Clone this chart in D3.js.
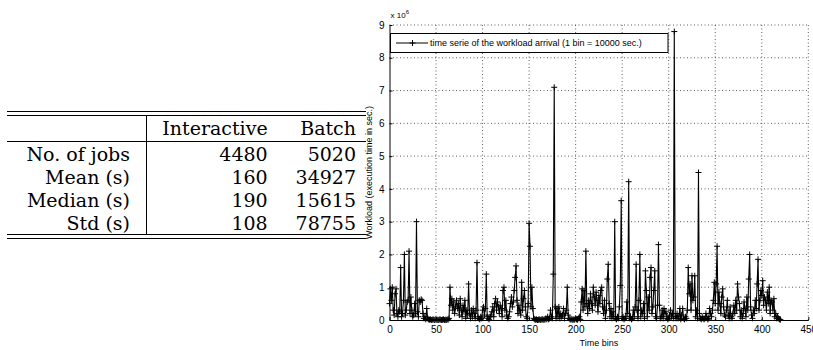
<!DOCTYPE html>
<html>
<head>
<meta charset="utf-8">
<script src="https://cdn.jsdelivr.net/npm/d3@7"></script>
<style>
  html, body { margin: 0; padding: 0; background: #fff; }
  svg { display: block; }
</style>
</head>
<body>
<svg id="chart" width="813" height="350"></svg>
<script>
// ---------- DATA ----------
const tableColumns = ["Interactive", "Batch"];
const tableRowLabels = ["No. of jobs", "Mean (s)", "Median (s)", "Std (s)"];
const interactiveValues = [4480, 160, 190, 108];
const batchValues = [5020, 34927, 15615, 78755];

const xTicks = [0, 50, 100, 150, 200, 250, 300, 350, 400, 450];
const yTicks = [0, 1, 2, 3, 4, 5, 6, 7, 8, 9];
const legendLabel = "time serie of the workload arrival (1 bin = 10000 sec.)";
const xLabel = "Time bins";
const yLabel = "Workload (execution time in sec.)";

// workload per bin, in units of 10^6 seconds (bins 0..420)
const workloadMillions = [
  0.5, 0.95, 0.6, 1.0, 0.3, 0.15, 0.8, 0.95, 0.2, 0.1,
  0.3, 0.25, 1.6, 0.1, 0.2, 0.6, 2.0, 0.15, 0.3, 0.55,
  0.6, 2.1, 0.2, 0.7, 0.3, 0.1, 0.15, 0.5, 0.2, 3.0,
  0.25, 0.1, 0.6, 0.55, 0.63, 0.6, 0.2, 0.05, 0.1, 0.02,
  0.35, 0.05, 0.02, 0.01, 0.02, 0.0, 0.01, 0.02, 0.0, 0.01,
  0.02, 0.0, 0.01, 0.0, 0.02, 0.01, 0.0, 0.01, 0.02, 0.0,
  0.01, 0.0, 0.02, 0.01, 0.05, 1.0, 0.45, 0.65, 0.3, 0.55,
  0.2, 0.4, 0.6, 0.35, 0.5, 0.15, 0.65, 0.3, 0.1, 0.45,
  0.25, 0.6, 0.05, 0.3, 0.15, 1.1, 0.2, 0.05, 0.3, 0.1,
  0.35, 0.2, 0.05, 0.3, 1.75, 0.1, 0.05, 0.02, 0.1, 0.05,
  0.3, 0.4, 0.15, 0.35, 1.4, 0.1, 0.05, 0.02, 0.1, 0.15,
  0.25, 0.4, 0.1, 0.5, 0.65, 0.3, 0.55, 0.4, 0.2, 0.45,
  0.35, 0.1, 0.9, 1.0, 0.3, 0.6, 0.15, 0.05, 0.1, 0.25,
  0.5, 0.7, 0.4, 0.55, 0.9, 1.3, 1.65, 0.6, 0.2, 0.45,
  0.3, 0.15, 1.15, 0.3, 0.65, 0.9, 0.4, 0.1, 0.05, 0.5,
  2.95, 2.25, 0.4, 1.0, 0.35, 0.05, 0.02, 0.01, 0.02, 0.0,
  0.01, 0.02, 0.0, 0.01, 0.03, 0.0, 0.02, 0.01, 0.05, 0.02,
  0.1, 0.02, 0.05, 0.3, 0.1, 0.05, 1.4, 7.1, 0.4, 0.05,
  0.35, 0.1, 0.4, 0.05, 0.2, 0.1, 0.15, 0.35, 0.05, 0.2,
  0.3, 1.0, 0.15, 0.05, 0.02, 0.01, 0.03, 0.0, 0.02, 0.01,
  0.05, 0.02, 0.01, 0.05, 0.1, 0.02, 0.55, 0.95, 0.3, 0.9,
  0.4, 2.1, 0.5, 0.2, 0.6, 0.35, 0.8, 0.5, 0.3, 1.0,
  0.7, 0.45, 0.85, 0.6, 0.25, 0.75, 0.5, 0.9, 1.0, 0.4,
  0.2, 0.6, 0.05, 0.3, 1.25, 1.7, 0.5, 0.1, 0.35, 0.05,
  0.25, 0.1, 3.0, 0.05, 0.02, 0.1, 0.05, 0.4, 1.05, 3.64,
  0.05, 0.1, 0.02, 0.05, 0.1, 0.55, 0.2, 4.22, 0.05, 0.1,
  0.02, 0.05, 0.3, 0.1, 0.4, 1.7, 0.3, 0.05, 0.6, 2.0,
  0.1, 0.3, 0.2, 0.5, 0.05, 1.5, 0.9, 0.1, 0.7, 0.3,
  1.3, 1.6, 0.2, 0.4, 0.9, 1.5, 0.1, 0.05, 0.45, 2.3,
  0.45, 0.05, 0.1, 0.3, 0.05, 0.35, 0.2, 0.25, 0.1, 0.02,
  0.05, 0.15, 0.3, 0.1, 0.2, 0.05, 8.8, 0.1, 0.05, 0.2,
  0.05, 0.1, 0.35, 0.02, 0.15, 0.35, 0.05, 0.02, 0.1, 0.05,
  0.3, 1.6, 0.8, 1.1, 0.3, 1.35, 0.6, 0.7, 1.35, 0.1,
  0.3, 0.05, 4.5, 0.2, 0.05, 0.02, 0.1, 0.05, 0.02, 0.05,
  0.2, 0.1, 0.02, 0.05, 0.35, 0.2, 0.1, 0.3, 0.6, 1.15,
  0.5, 1.1, 2.25, 0.3, 0.85, 0.5, 0.2, 0.7, 0.95, 0.4,
  0.15, 0.1, 0.3, 0.6, 0.15, 0.05, 0.4, 0.1, 0.05, 0.2,
  0.45, 0.2, 0.6, 0.3, 1.1, 0.7, 0.5, 0.1, 0.3, 0.05,
  0.2, 0.55, 0.35, 0.1, 0.7, 0.3, 1.25, 2.0, 0.4, 0.15,
  0.05, 0.3, 0.2, 0.6, 0.35, 1.1, 1.85, 0.3, 0.6, 0.9,
  0.75, 1.2, 0.45, 0.7, 0.6, 0.3, 0.85, 0.5, 1.0, 0.2,
  0.6, 0.55, 0.3, 0.65, 0.1, 0.2, 0.05, 0.1, 0.05, 0.02,
  0.01
];

// ---------- DRAW ----------
const svg = d3.select("#chart");
svg.append("rect").attr("width", 813).attr("height", 350).attr("fill", "#fff");

// ---- Table ----
const tbl = svg.append("g").style("font-family", "'DejaVu Serif', 'Liberation Serif', serif")
  .style("font-size", "19px").attr("fill", "#000");
const tblLeft = 7, tblRight = 366, vLineX = 146.5;
const line = (x1, y1, x2, y2) => tbl.append("line").attr("x1", x1).attr("y1", y1).attr("x2", x2).attr("y2", y2)
  .attr("stroke", "#000").attr("stroke-width", 1);
line(tblLeft, 111.5, tblRight, 111.5);
line(tblLeft, 115.5, tblRight, 115.5);
line(tblLeft, 141.5, tblRight, 141.5);
line(tblLeft, 234.5, tblRight, 234.5);
line(tblLeft, 238.5, tblRight, 238.5);
line(vLineX, 115.5, vLineX, 234.5);

const colRight = [267.7, 356];
const headerBaseline = 135;
tableColumns.forEach((c, i) => {
  tbl.append("text").attr("x", colRight[i]).attr("y", headerBaseline).attr("text-anchor", "end").text(c);
});
const rowBaselines = [160.5, 183.5, 206.5, 229.5];
tableRowLabels.forEach((r, i) => {
  tbl.append("text").attr("x", 130).attr("y", rowBaselines[i]).attr("text-anchor", "end").text(r);
  tbl.append("text").attr("x", colRight[0]).attr("y", rowBaselines[i]).attr("text-anchor", "end").text(interactiveValues[i]);
  tbl.append("text").attr("x", colRight[1]).attr("y", rowBaselines[i]).attr("text-anchor", "end").text(batchValues[i]);
});

// ---- Chart ----
const plotLeft = 389.5, plotRight = 808.3, plotTop = 25, plotBottom = 320;
const x = d3.scaleLinear().domain([0, 450]).range([plotLeft, plotRight]);
const y = d3.scaleLinear().domain([0, 9]).range([plotBottom, plotTop]);
const chartFont = "'Liberation Sans', Arial, Helvetica, sans-serif";

const chart = svg.append("g");

// grid
const grid = chart.append("g").attr("stroke", "#333").attr("stroke-width", 0.8).attr("stroke-dasharray", "1,2.5");
xTicks.forEach(t => {
  if (t === 0) return;
  grid.append("line").attr("x1", x(t)).attr("x2", x(t)).attr("y1", plotTop).attr("y2", plotBottom);
});
yTicks.forEach(t => {
  if (t === 0) return;
  grid.append("line").attr("x1", plotLeft).attr("x2", plotRight).attr("y1", y(t)).attr("y2", y(t));
});

// axes
const xAxis = d3.axisBottom(x).tickValues(xTicks).tickSizeInner(-3).tickSizeOuter(0).tickPadding(6);
const yAxis = d3.axisLeft(y).tickValues(yTicks).tickSizeInner(-3).tickSizeOuter(0).tickPadding(5);
const gx = chart.append("g").attr("transform", `translate(0,${plotBottom})`).call(xAxis);
const gy = chart.append("g").attr("transform", `translate(${plotLeft},0)`).call(yAxis);
[gx, gy].forEach(g => {
  g.selectAll("path.domain").attr("stroke", "#000").attr("stroke-width", 1);
  g.selectAll(".tick line").attr("stroke", "#000");
  g.selectAll(".tick text").attr("font-family", chartFont).attr("font-size", 10).attr("fill", "#000");
});

// series line
const lineGen = d3.line().x((d, i) => x(i)).y(d => y(d));
chart.append("path").datum(workloadMillions).attr("d", lineGen)
  .attr("fill", "none").attr("stroke", "#000").attr("stroke-width", 1.1).attr("stroke-linejoin", "miter");

// + markers
const m = 3;
chart.append("path")
  .attr("d", workloadMillions.map((d, i) => {
    const px = x(i), py = y(d);
    return `M${px - m},${py}h${2 * m}M${px},${py - m}v${2 * m}`;
  }).join(""))
  .attr("stroke", "#000").attr("stroke-width", 1).attr("fill", "none");

// exponent label
const expo = chart.append("text").attr("x", plotLeft + 1).attr("y", 18)
  .attr("font-family", chartFont).attr("font-size", 8).attr("fill", "#000");
expo.append("tspan").text("x 10");
expo.append("tspan").attr("font-size", 6).attr("dy", -4).text("6");

// axis labels
chart.append("text").attr("x", (plotLeft + plotRight) / 2).attr("y", 346)
  .attr("text-anchor", "middle").attr("font-family", chartFont).attr("font-size", 9).attr("fill", "#000").text(xLabel);
chart.append("text").attr("transform", `translate(372,${(plotTop + plotBottom) / 2}) rotate(-90)`)
  .attr("text-anchor", "middle").attr("font-family", chartFont).attr("font-size", 9).attr("fill", "#000").text(yLabel);

// legend
const lg = chart.append("g");
lg.append("rect").attr("x", 390.5).attr("y", 33.5).attr("width", 277.5).attr("height", 19)
  .attr("fill", "#fff").attr("stroke", "#000").attr("stroke-width", 1);
lg.append("line").attr("x1", 396).attr("x2", 428).attr("y1", 43).attr("y2", 43).attr("stroke", "#000");
lg.append("path").attr("d", `M${412.5 - m},43h${2 * m}M412.5,${43 - m}v${2 * m}`).attr("stroke", "#000");
lg.append("text").attr("x", 430).attr("y", 46.3).attr("font-family", chartFont).attr("font-size", 9)
  .attr("fill", "#000").text(legendLabel);
</script>
</body>
</html>
